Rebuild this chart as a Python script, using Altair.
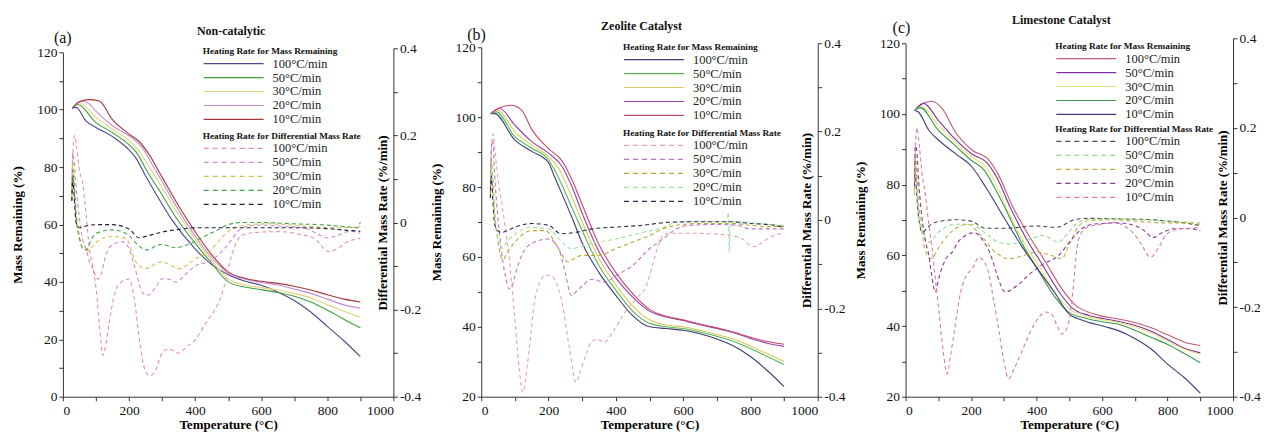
import altair as alt
import pandas as pd

RATES = ["100°C/min", "50°C/min", "30°C/min", "20°C/min", "10°C/min"]
RATES_DTG = [r + " " for r in RATES]
T_TICKS = [0, 100, 200, 300, 400, 500, 600, 700, 800, 900, 1000]
D_TICKS = [-0.4, -0.3, -0.2, -0.1, 0, 0.1, 0.2, 0.3, 0.4]
M_TICKS_A = [0, 10, 20, 30, 40, 50, 60, 70, 80, 90, 100, 110, 120]
M_TICKS_BC = [20, 30, 40, 50, 60, 70, 80, 90, 100, 110, 120]

# ---------------- Panel (a) Non-catalytic ----------------
A_MR_100 = [(28,100.5),(40,100.8),(70,96),(100,93.8),(150,90.6),(200,86),(220,83.3),(250,77),(280,71),(330,61.6),(400,51.5),(450,46),(500,42.5),(550,40.3),(600,38.8),(650,36.5),(700,33.5),(750,29.5),(800,24.5),(850,19.5),(900,14)]
A_MR_50 = [(28,100.5),(45,101.8),(100,95.5),(150,92),(200,87.8),(220,85.5),(260,77.5),(290,72.2),(340,62.8),(400,53.5),(450,46.5),(500,40),(550,38.2),(600,37.3),(650,36.3),(700,35),(750,33),(800,30.2),(850,27),(900,24)]
A_MR_30 = [(28,100.5),(50,102.4),(100,97.3),(150,93.2),(200,89.2),(230,85.6),(270,78.5),(300,72.8),(350,63.5),(400,55),(450,47.5),(500,41),(550,39),(600,38),(650,37.2),(700,36),(750,34.5),(800,32),(850,29.8),(900,27.7)]
A_MR_20 = [(28,100.5),(55,103),(80,102),(100,99.5),(150,94.4),(200,90.9),(240,86.8),(270,81),(300,75),(350,65),(400,56),(450,48.5),(500,43),(550,41),(600,39.8),(650,38.9),(700,37.5),(750,36),(800,34),(850,32),(900,30.9)]
A_MR_10 = [(28,100.5),(50,102.8),(80,103.5),(110,103),(150,96.5),(200,91.5),(230,89),(260,84.5),(300,76.5),(350,66.5),(400,57.5),(450,49.5),(500,43.5),(550,41.3),(600,40.2),(650,39.5),(700,38.5),(750,37.2),(800,35.5),(850,34),(900,33)]

A_DR_100 = [(27,0.08),(31,0.17),(36,0.2),(42,0.17),(50,0.12),(60,0.09),(70,0.02),(80,-0.06),(90,-0.1),(100,-0.15),(110,-0.23),(121,-0.305),(130,-0.28),(140,-0.23),(160,-0.155),(180,-0.135),(200,-0.13),(215,-0.17),(230,-0.26),(245,-0.33),(262,-0.352),(280,-0.34),(300,-0.3),(320,-0.29),(350,-0.3),(375,-0.285),(400,-0.27),(433,-0.23),(460,-0.2),(487,-0.15),(507,-0.085),(525,-0.045),(545,-0.028),(600,-0.022),(660,-0.021),(720,-0.028),(760,-0.036),(790,-0.06),(805,-0.067),(830,-0.06),(860,-0.045),(900,-0.036)]
A_DR_50 = [(27,0.07),(30,0.16),(34,0.14),(40,0.08),(50,0.01),(60,-0.04),(70,-0.06),(80,-0.09),(91,-0.106),(105,-0.13),(115,-0.12),(130,-0.075),(150,-0.051),(180,-0.044),(200,-0.06),(220,-0.11),(240,-0.16),(255,-0.167),(280,-0.15),(300,-0.129),(320,-0.13),(342,-0.137),(370,-0.12),(400,-0.1),(440,-0.09),(470,-0.075),(500,-0.05),(530,-0.02),(560,-0.008),(600,-0.006),(650,-0.008),(700,-0.01),(740,-0.015),(780,-0.03),(800,-0.035),(830,-0.03),(870,-0.02),(900,-0.025)]
A_DR_30 = [(27,0.06),(30,0.14),(34,0.1),(40,0.03),(50,-0.03),(60,-0.06),(75,-0.065),(90,-0.055),(110,-0.04),(150,-0.032),(190,-0.036),(220,-0.09),(250,-0.106),(280,-0.095),(300,-0.09),(330,-0.1),(352,-0.106),(380,-0.095),(410,-0.08),(440,-0.068),(470,-0.044),(500,-0.02),(520,-0.012),(560,-0.005),(620,-0.003),(700,-0.006),(760,-0.01),(800,-0.012),(850,-0.012),(900,-0.01)]
A_DR_20 = [(27,0.05),(30,0.12),(34,0.08),(40,0.01),(50,-0.037),(62,-0.06),(72,-0.062),(85,-0.04),(100,-0.025),(150,-0.017),(200,-0.03),(225,-0.05),(252,-0.063),(280,-0.055),(300,-0.05),(340,-0.058),(380,-0.05),(420,-0.035),(460,-0.02),(500,-0.005),(540,0.0),(600,0.0),(700,-0.003),(800,-0.006),(860,-0.01),(890,-0.012),(900,0.0)]
A_DR_10 = [(27,0.05),(30,0.1),(34,0.06),(40,0.0),(50,-0.012),(70,-0.008),(100,-0.005),(150,-0.005),(200,-0.015),(230,-0.035),(260,-0.03),(300,-0.022),(350,-0.016),(400,-0.012),(500,-0.012),(600,-0.012),(700,-0.012),(800,-0.014),(860,-0.018),(900,-0.02)]

# ---------------- Panel (b) Zeolite Catalyst ----------------
B_MR_100 = [(28,101),(40,101),(100,93.4),(150,90.2),(200,87),(215,83.6),(270,71.2),(300,64),(350,55.5),(400,49),(450,43.2),(500,40),(550,39.5),(600,39),(650,38),(700,36.5),(750,34.5),(800,31.5),(850,27.5),(900,22.9)]
B_MR_50 = [(28,101),(45,101.5),(100,94.4),(150,91.1),(200,87.8),(220,84.5),(270,74),(300,67.5),(350,57.5),(400,50.5),(450,44.5),(500,41),(550,40),(600,39.5),(650,38.5),(700,37.3),(750,35.8),(800,33.8),(850,31.5),(900,29.2)]
B_MR_30 = [(28,101),(50,102),(100,95.8),(150,92),(200,88.7),(230,85.4),(270,77),(300,70),(350,59.5),(400,52),(450,46),(500,42),(550,40.5),(600,40),(650,39),(700,37.8),(750,36.5),(800,34.5),(850,32.3),(900,30.1)]
B_MR_20 = [(28,101),(55,102.5),(100,97.7),(150,93),(200,89.7),(240,85.9),(270,80),(300,72.5),(350,61.5),(400,54),(450,48.5),(500,44.5),(550,42.8),(600,41.8),(650,40.6),(700,39.5),(750,38.3),(800,36.7),(850,35.3),(900,34.4)]
B_MR_10 = [(28,101),(50,102.5),(89,103.4),(120,102),(150,96.5),(200,91),(240,87.5),(270,82),(300,75),(350,63.5),(400,55.5),(450,49.5),(500,45),(550,43),(600,42),(650,40.8),(700,39.7),(750,38.5),(800,37),(850,35.8),(900,35)]

B_DR_100 = [(27,0.08),(30,0.16),(35,0.195),(42,0.15),(50,0.09),(59,0.048),(70,-0.01),(80,-0.065),(90,-0.14),(99,-0.217),(112,-0.33),(124,-0.39),(135,-0.34),(143,-0.29),(158,-0.186),(175,-0.14),(188,-0.126),(205,-0.125),(218,-0.134),(240,-0.186),(262,-0.29),(282,-0.368),(295,-0.34),(307,-0.315),(326,-0.277),(345,-0.27),(366,-0.277),(396,-0.247),(435,-0.2),(465,-0.175),(490,-0.15),(510,-0.1),(525,-0.06),(540,-0.035),(560,-0.03),(620,-0.03),(700,-0.032),(750,-0.036),(780,-0.045),(800,-0.058),(815,-0.06),(840,-0.048),(870,-0.035),(900,-0.03)]
B_DR_50 = [(27,0.07),(30,0.16),(34,0.18),(40,0.1),(50,0.0),(60,-0.07),(70,-0.12),(84,-0.156),(92,-0.15),(100,-0.126),(120,-0.08),(140,-0.058),(158,-0.05),(200,-0.043),(230,-0.065),(250,-0.12),(267,-0.171),(285,-0.16),(300,-0.149),(330,-0.134),(366,-0.141),(400,-0.126),(450,-0.103),(500,-0.065),(540,-0.043),(580,-0.02),(620,-0.012),(700,-0.01),(760,-0.012),(800,-0.02),(850,-0.02),(900,-0.02)]
B_DR_30 = [(27,0.06),(30,0.14),(34,0.1),(40,0.02),(50,-0.05),(64,-0.09),(80,-0.07),(100,-0.05),(150,-0.024),(190,-0.024),(230,-0.065),(257,-0.095),(280,-0.085),(300,-0.08),(350,-0.08),(400,-0.065),(450,-0.05),(500,-0.035),(540,-0.02),(580,-0.012),(650,-0.008),(750,-0.008),(800,-0.012),(850,-0.015),(900,-0.015)]
B_DR_20 = [(27,0.05),(30,0.12),(34,0.07),(40,0.0),(50,-0.04),(59,-0.065),(75,-0.05),(100,-0.032),(150,-0.017),(200,-0.02),(240,-0.05),(267,-0.065),(320,-0.054),(400,-0.043),(480,-0.028),(540,-0.017),(580,-0.005),(650,-0.003),(731,-0.004),(734,0.018),(737,-0.072),(740,-0.004),(800,-0.006),(850,-0.01),(900,-0.012)]
B_DR_10 = [(27,0.05),(30,0.1),(34,0.05),(40,-0.01),(50,-0.025),(60,-0.028),(100,-0.016),(150,-0.008),(200,-0.012),(237,-0.031),(280,-0.028),(330,-0.02),(400,-0.016),(480,-0.012),(560,-0.005),(650,-0.004),(750,-0.004),(800,-0.008),(850,-0.01),(900,-0.016)]

# ---------------- Panel (c) Limestone Catalyst ----------------
C_MR_100 = [(28,101),(50,102.8),(81,103.6),(112,101.5),(152,94.9),(203,89.8),(254,87),(284,82.7),(325,74.2),(376,65.7),(427,58.2),(477,50.6),(518,45.9),(569,43.6),(610,42.6),(650,42),(700,41),(750,39.5),(800,37.5),(850,35.5),(900,34.5)]
C_MR_50 = [(28,101),(55,103),(100,98.2),(150,93),(200,88.8),(250,86),(280,81.8),(320,73.5),(370,64.5),(420,57),(470,49.5),(510,45),(560,43),(610,42),(650,41.3),(700,40.2),(750,38.5),(800,36.2),(850,33.8),(900,32.4)]
C_MR_30 = [(28,101),(50,102.1),(100,96.8),(150,92.1),(200,87.9),(244,85.1),(275,80.5),(310,73),(360,64),(410,56.5),(460,49),(505,44.5),(550,42.8),(600,41.8),(650,41),(700,39.8),(750,38),(800,35.8),(850,33.5),(900,32)]
C_MR_20 = [(28,101),(45,101.8),(100,95.4),(150,91.2),(200,86.9),(240,84.1),(270,79.5),(305,73.2),(355,63.5),(405,55.8),(455,48.3),(500,43.8),(550,42.2),(600,41.2),(650,40.5),(700,38.8),(750,36.8),(800,34.8),(850,32.3),(900,29.6)]
C_MR_10 = [(28,101),(40,100.5),(71,95.4),(102,92.5),(152,88.8),(203,85),(244,79.4),(305,70),(356,62.4),(406,55.8),(457,49.2),(498,43.5),(538,41.7),(610,39.8),(650,38.7),(700,36.5),(750,33.5),(800,29.2),(850,25.5),(900,21)]

C_DR_100 = [(27,0.05),(30,0.1),(34,0.05),(40,0.0),(51,-0.033),(70,-0.02),(90,-0.011),(152,-0.005),(200,-0.008),(244,-0.024),(300,-0.024),(400,-0.019),(460,-0.022),(520,-0.004),(560,-0.002),(650,-0.003),(750,-0.005),(850,-0.012),(900,-0.018)]
C_DR_50 = [(27,0.05),(30,0.12),(34,0.07),(40,0.0),(55,-0.04),(71,-0.055),(100,-0.033),(150,-0.015),(200,-0.015),(240,-0.033),(284,-0.055),(320,-0.059),(380,-0.048),(420,-0.04),(467,-0.055),(490,-0.04),(520,-0.015),(560,-0.004),(650,-0.003),(750,-0.006),(850,-0.01),(900,-0.012)]
C_DR_30 = [(27,0.06),(30,0.14),(34,0.1),(40,0.03),(50,-0.03),(61,-0.077),(81,-0.092),(95,-0.075),(112,-0.055),(150,-0.026),(190,-0.015),(230,-0.04),(274,-0.077),(315,-0.092),(360,-0.085),(400,-0.077),(447,-0.085),(477,-0.092),(500,-0.06),(530,-0.018),(560,-0.007),(620,-0.005),(700,-0.008),(780,-0.012),(850,-0.012),(900,-0.015)]
C_DR_20 = [(27,0.07),(30,0.16),(34,0.15),(40,0.08),(50,0.0),(60,-0.05),(71,-0.085),(80,-0.13),(91,-0.167),(100,-0.14),(110,-0.115),(125,-0.09),(142,-0.078),(160,-0.055),(183,-0.04),(210,-0.034),(240,-0.055),(258,-0.08),(274,-0.115),(290,-0.15),(305,-0.167),(325,-0.16),(345,-0.149),(386,-0.122),(420,-0.104),(467,-0.085),(508,-0.048),(549,-0.02),(585,-0.014),(650,-0.012),(700,-0.018),(730,-0.03),(755,-0.045),(780,-0.035),(820,-0.025),(870,-0.025),(900,-0.03)]
C_DR_10 = [(27,0.08),(30,0.16),(35,0.2),(42,0.16),(50,0.1),(61,0.049),(70,-0.01),(80,-0.063),(90,-0.13),(102,-0.211),(115,-0.3),(127,-0.349),(137,-0.31),(147,-0.263),(168,-0.167),(185,-0.13),(203,-0.115),(224,-0.089),(250,-0.115),(268,-0.18),(284,-0.248),(300,-0.32),(315,-0.36),(330,-0.34),(345,-0.316),(366,-0.28),(386,-0.248),(410,-0.22),(427,-0.211),(445,-0.215),(462,-0.24),(477,-0.26),(487,-0.255),(498,-0.234),(510,-0.17),(524,-0.066),(540,-0.03),(555,-0.022),(600,-0.015),(636,-0.011),(670,-0.02),(697,-0.036),(720,-0.06),(748,-0.089),(770,-0.07),(799,-0.036),(840,-0.025),(870,-0.024),(900,-0.022)]

A_SOLID_COLORS = ["#4a4a8c", "#3c9e3c", "#e3d27a", "#c98ad8", "#a33a3a"]
A_DASH_COLORS = ["#e495a2", "#d08cd0", "#cfc24e", "#48a048", "#20203a"]
B_SOLID_COLORS = ["#3c3c6e", "#55b855", "#ddc860", "#9a40b0", "#c04a68"]
B_DASH_COLORS = ["#e8a2b2", "#c272c8", "#b4aa34", "#9fe09f", "#2a2a48"]
C_SOLID_COLORS = ["#c45a6e", "#7e30a0", "#ece07e", "#3a9a4a", "#3e3e7c"]
C_DASH_COLORS = ["#4a4a4a", "#8fdc8f", "#c0b040", "#8a3a9a", "#dc8098"]

FONT = "Liberation Serif"
H = 354


def long_frame(series_list, keys, vname, key):
    rows = []
    for rate, pts in zip(keys, series_list):
        for t, v in pts:
            rows.append({"T": t, vname: v, key: rate})
    return pd.DataFrame(rows)


def legend(x, y, title, dash=None):
    kw = dict(
        orient="none", legendX=x, legendY=y, direction="vertical", title=title,
        symbolType="stroke", symbolSize=3600, clipHeight=14, symbolStrokeWidth=1.2,
        labelFont=FONT, labelFontSize=12.5, labelColor="#222", labelOffset=8,
        titleFont=FONT, titleFontSize=9.3, titleFontWeight="bold", titleColor="#111",
        titlePadding=0, padding=2, rowPadding=0, titleLimit=220,
    )
    if dash is not None:
        kw["symbolDash"] = dash
    return alt.Legend(**kw)


def panel(letter, title, mr, dr, scol, dcol, w, ymin, mticks, lrange, rrange,
          leg1, leg2, title_dx, title_dy, letter_dx, letter_dy):
    sdf = long_frame(mr, RATES, "M", "rate_mass")
    ddf = long_frame(dr, RATES_DTG, "D", "rate_dtg")
    xaxis = alt.Axis(values=T_TICKS, format="d",
                     labelExpr="datum.value % 200 == 0 ? datum.label : ''",
                     title="Temperature (°C)", tickSize=4, labelPadding=3, titlePadding=1)
    x = alt.X("T:Q", scale=alt.Scale(domain=[0, 1000], nice=False, zero=False), axis=xaxis)
    solid = alt.Chart(sdf).mark_line(strokeWidth=1.1, interpolate="monotone").encode(
        x=x,
        y=alt.Y("M:Q", scale=alt.Scale(domain=[ymin, 120], range=lrange, nice=False, zero=False),
                axis=alt.Axis(values=mticks, labelExpr="datum.value % 20 == 0 ? datum.label : ''",
                              title="Mass Remaining (%)", tickSize=4, labelPadding=2, titlePadding=12)),
        color=alt.Color("rate_mass:N", scale=alt.Scale(domain=RATES, range=scol),
                        legend=legend(leg1[0], leg1[1], "Heating Rate for Mass Remaining")),
    )
    dashed = alt.Chart(ddf).mark_line(strokeWidth=1.1, strokeDash=[4, 3], interpolate="monotone").encode(
        x=x,
        y=alt.Y("D:Q", scale=alt.Scale(domain=[-0.4, 0.4], range=rrange, nice=False, zero=False),
                axis=alt.Axis(orient="right", values=D_TICKS,
                              labelExpr="abs(round(datum.value*10)) % 2 == 0 ? (datum.value == 0 ? '0' : replace(format(datum.value, '.1f'), '\u2212', '-')) : ''",
                              title="Differential Mass Rate (%/min)", titleAngle=270,
                              titleX=-4, titleY=(rrange[0] + rrange[1]) / 2, titleAlign="center",
                              titleBaseline="bottom", tickSize=4, labelPadding=2)),
        stroke=alt.Stroke("rate_dtg:N", scale=alt.Scale(domain=RATES_DTG, range=dcol),
                          legend=legend(leg2[0], leg2[1], "Heating Rate for Differential Mass Rate", [5, 4])),
    )
    tdf = pd.DataFrame({"t": [title]})
    ttl = alt.Chart(tdf).mark_text(font=FONT, fontSize=12, fontWeight="bold", color="#111",
                                   align="center", baseline="middle").encode(
        text="t:N", x=alt.value(w / 2 + title_dx), y=alt.value(title_dy))
    ldf = pd.DataFrame({"t": [letter]})
    lab = alt.Chart(ldf).mark_text(font=FONT, fontSize=16, color="#111",
                                   align="left", baseline="middle").encode(
        text="t:N", x=alt.value(letter_dx), y=alt.value(letter_dy))
    # invisible top anchor so every panel has the same layout bounds
    sdf2 = pd.DataFrame({"t": ["."]})
    anchor = alt.Chart(sdf2).mark_text(fontSize=6, color="white", align="left", baseline="top").encode(
        text="t:N", x=alt.value(40), y=alt.value(-35))
    return alt.layer(solid, dashed, ttl, lab, anchor).resolve_scale(y="independent").properties(width=w, height=H)


pa = panel("(a)", "Non-catalytic",
           [A_MR_100, A_MR_50, A_MR_30, A_MR_20, A_MR_10],
           [A_DR_100, A_DR_50, A_DR_30, A_DR_20, A_DR_10],
           A_SOLID_COLORS, A_DASH_COLORS, 331, 0, M_TICKS_A, [H, 9], [H, 5],
           (138, 2), (138, 87), 3, -12, -9, -5)
pb = panel("(b)", "Zeolite Catalyst",
           [B_MR_100, B_MR_50, B_MR_30, B_MR_20, B_MR_10],
           [B_DR_100, B_DR_50, B_DR_30, B_DR_20, B_DR_10],
           B_SOLID_COLORS, B_DASH_COLORS, 337, 20, M_TICKS_BC, [H, 4], [H, 0],
           (140, -2), (140, 84), -8, -17, -14, -8)
pc = panel("(c)", "Limestone Catalyst",
           [C_MR_100, C_MR_50, C_MR_30, C_MR_20, C_MR_10],
           [C_DR_100, C_DR_50, C_DR_30, C_DR_20, C_DR_10],
           C_SOLID_COLORS, C_DASH_COLORS, 328, 20, M_TICKS_BC, [H, 0], [H, -5],
           (148, -3), (148, 80), -8, -23, -13, -15)

chart = alt.hconcat(pa, pb, pc, spacing=8).resolve_scale(
    x="independent", y="independent", color="independent", stroke="independent"
).properties(
    padding={"left": 3, "top": 0, "right": 2, "bottom": 0}
).configure_view(stroke=None).configure_axis(
    grid=False, labelFont=FONT, titleFont=FONT, labelFontSize=13.5, titleFontSize=13,
    titleFontWeight="bold", domainColor="#333", tickColor="#333", labelColor="#111",
    titleColor="#000", domainWidth=1, tickWidth=1
)

chart.save("out.html", embed_options={"renderer": "svg", "actions": False})
